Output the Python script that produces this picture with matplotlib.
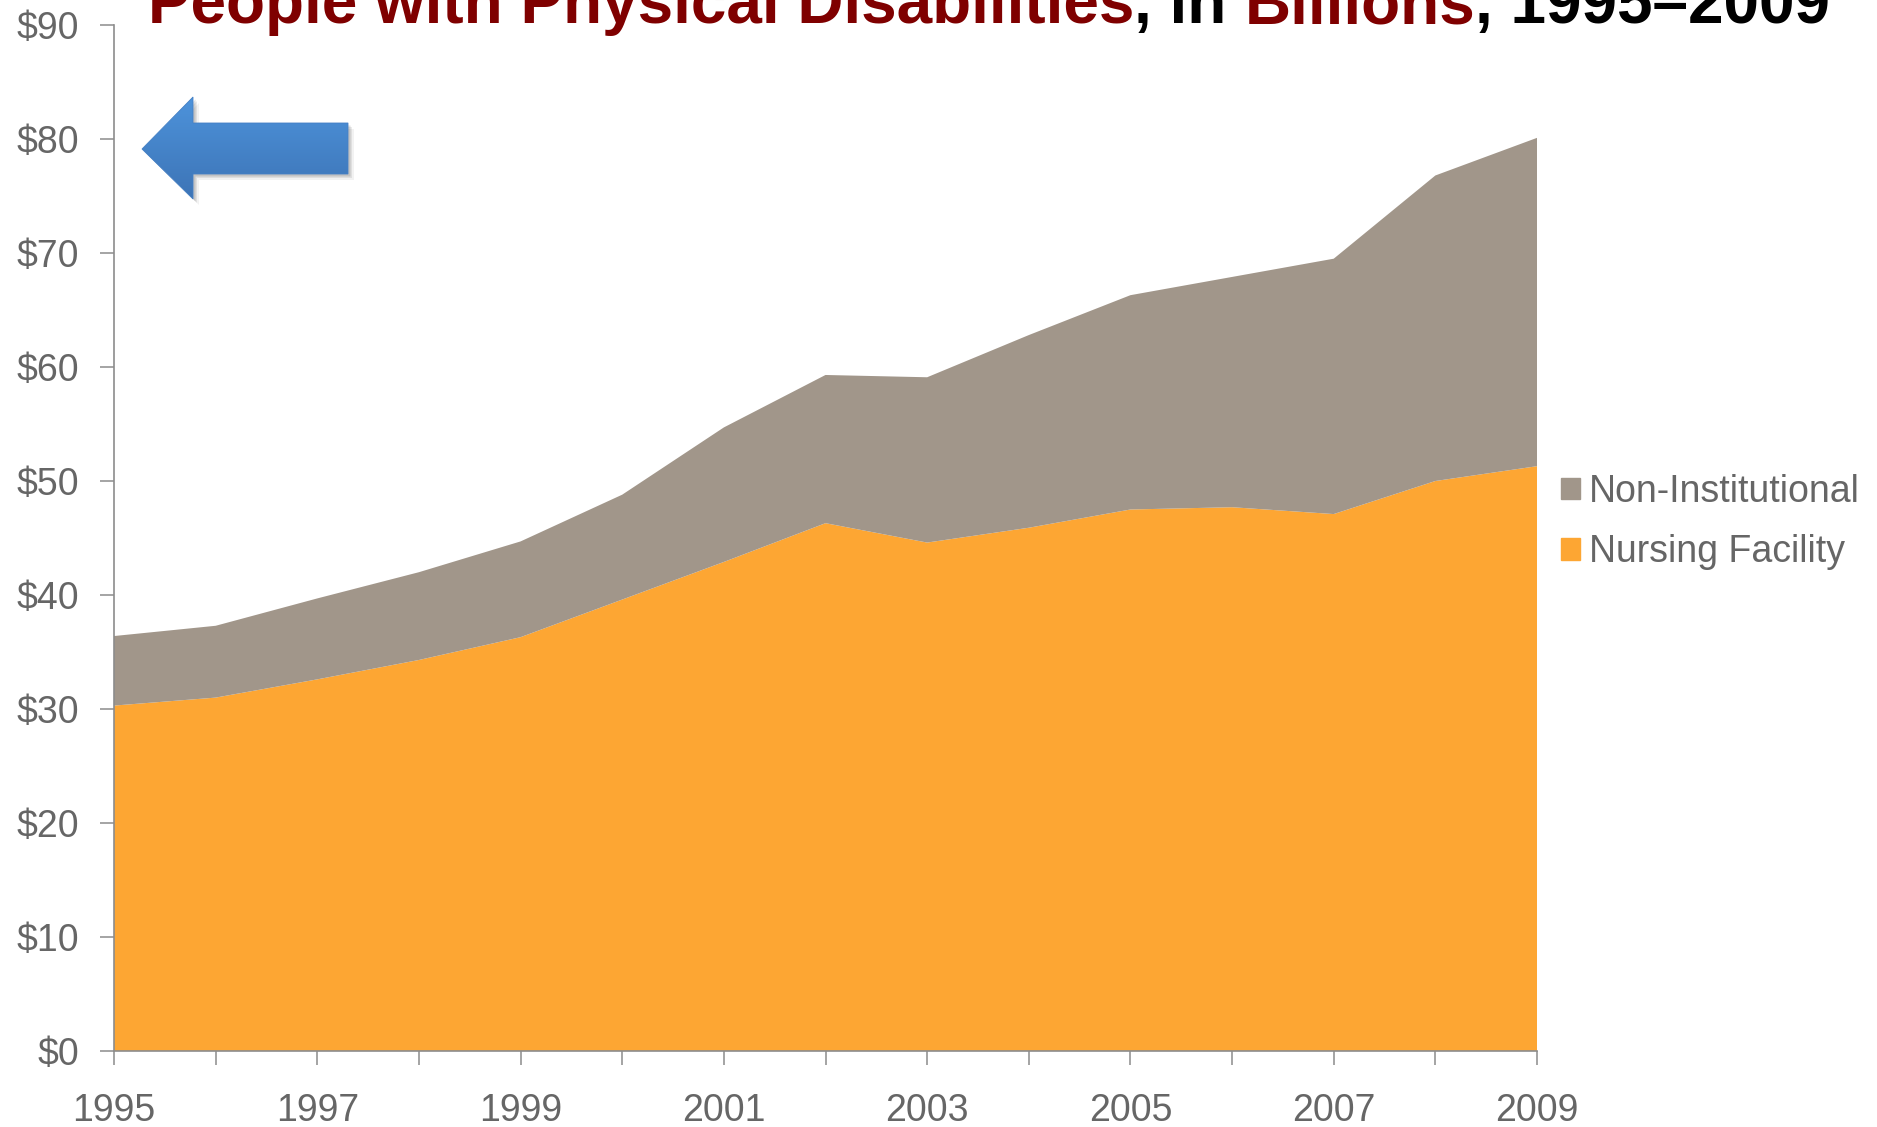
import matplotlib
matplotlib.use("Agg")
import matplotlib.pyplot as plt
import numpy as np
from matplotlib.patches import Polygon, Rectangle
from matplotlib.ticker import FuncFormatter, MultipleLocator, FixedLocator

# Spending in billions of dollars
years = [1995, 1996, 1997, 1998, 1999, 2000, 2001, 2002, 2003, 2004, 2005, 2006, 2007, 2008, 2009]
nursing_facility = [30.3, 31.0, 32.6, 34.3, 36.3, 39.6, 42.9, 46.3, 44.6, 45.9, 47.5, 47.7, 47.1, 50.0, 51.3]
non_institutional = [6.1, 6.3, 7.1, 7.7, 8.4, 9.2, 11.8, 13.0, 14.5, 16.9, 18.8, 20.2, 22.4, 26.8, 28.8]
series_labels = ["Nursing Facility", "Non-Institutional"]
series_colors = ["#FDA633", "#A1968A"]

title_parts = ["People with Physical Disabilities", ", in ", "Billions", ", 1995\u20132009"]
title_colors = ["#7F0000", "black", "#7F0000", "black"]

plt.rcParams["font.family"] = ["Liberation Sans", "DejaVu Sans"]
W, H = 1877, 1127
fig = plt.figure(figsize=(W / 100, H / 100), dpi=100)

ax = fig.add_axes([114 / W, 1 - 1051 / H, (1537 - 114) / W, (1051 - 25) / H])
ax.stackplot(years, nursing_facility, non_institutional,
             colors=series_colors, labels=series_labels, linewidth=0)

ax.set_xlim(1995, 2009)
ax.set_ylim(0, 90)
ax.yaxis.set_major_locator(MultipleLocator(10))
ax.yaxis.set_major_formatter(FuncFormatter(lambda v, p: r"\$%d" % v))
ax.xaxis.set_major_locator(FixedLocator(years[::2]))
ax.xaxis.set_major_formatter(FuncFormatter(lambda v, p: "%d" % v))
ax.xaxis.set_minor_locator(FixedLocator(years[1::2]))

axis_gray = "#8C8C8C"
for side in ["top", "right"]:
    ax.spines[side].set_visible(False)
for side in ["left", "bottom"]:
    ax.spines[side].set_color(axis_gray)
    ax.spines[side].set_linewidth(1.2)
ax.tick_params(axis="y", which="major", length=10, width=1.1, color=axis_gray,
               labelsize=27, labelcolor="#666666", pad=15)
ax.tick_params(axis="x", which="both", length=10, width=1.1, color=axis_gray,
               labelsize=27, labelcolor="#666666", pad=20)
ax.patch.set_alpha(0)

# legend, non-institutional listed first
handles = [Rectangle((0, 0), 1, 1, color=series_colors[1]),
           Rectangle((0, 0), 1, 1, color=series_colors[0])]
fig.legend(handles, [series_labels[1], series_labels[0]], loc="center left",
           bbox_to_anchor=(1561 / W, 1 - 522 / H), frameon=False, fontsize=27,
           labelcolor="#666666", handlelength=0.5, handleheight=0.5,
           handletextpad=0.25, labelspacing=0.66, borderpad=0, borderaxespad=0)

# blue block arrow with a soft shadow and vertical gradient
over = fig.add_axes([0, 0, 1, 1])
over.set_xlim(0, W)
over.set_ylim(H, 0)
over.axis("off")
arrow_pts = np.array([(142, 149), (193, 97), (193, 123), (348, 123),
                      (348, 174), (193, 174), (193, 199)], dtype=float)
for off, a in [(6, 0.05), (4, 0.08), (2.5, 0.12)]:
    over.add_patch(Polygon(arrow_pts + [off, off], closed=True, color="black",
                           alpha=a, lw=0, zorder=1))
clip = Polygon(arrow_pts, closed=True, facecolor="none", edgecolor="none")
over.add_patch(clip)
grad = np.linspace(0, 1, 256).reshape(-1, 1)
cmap = matplotlib.colors.LinearSegmentedColormap.from_list("arr", ["#4D93DB", "#3D74B6"])
img = over.imshow(grad, cmap=cmap, extent=(140, 350, 199, 97), aspect="auto",
                  interpolation="bilinear", zorder=2)
img.set_clip_path(clip)
over.add_patch(Polygon(arrow_pts, closed=True, facecolor="none",
                       edgecolor="#4580C4", lw=0.6, zorder=3))

# title in coloured pieces laid end to end
fig.canvas.draw()
renderer = fig.canvas.get_renderer()


def text_width(s, size):
    t = fig.text(0, 0, s, fontsize=size, fontweight="bold")
    w = t.get_window_extent(renderer).width
    t.remove()
    return w


full_title = "".join(title_parts)
base = 40
size = base * (1681 / (text_width(full_title + "x", base) - text_width("x", base)))
x0, baseline = 148, 23
prefix = ""
for part, col in zip(title_parts, title_colors):
    off = text_width(prefix + "x", size) - text_width("x", size) if prefix else 0
    fig.text((x0 + off) / W, 1 - baseline / H, part, fontsize=size,
             fontweight="bold", color=col, va="baseline", ha="left")
    prefix += part

fig.savefig("out.png", dpi=100)
